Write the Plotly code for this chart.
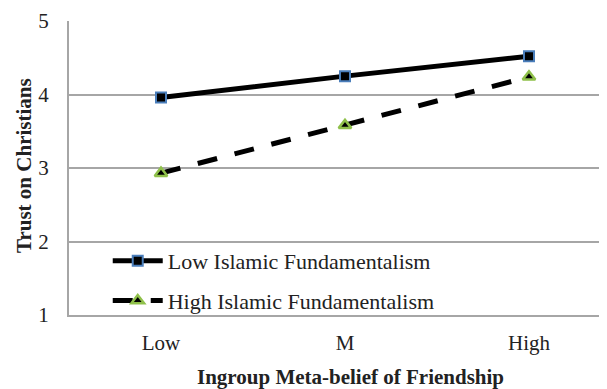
import plotly.graph_objects as go

categories = ["Low", "M", "High"]
low_fund = [3.96, 4.25, 4.52]
high_fund = [2.93, 3.58, 4.24]
series_names = ["Low Islamic Fundamentalism", "High Islamic Fundamentalism"]
y_ticks = [1, 2, 3, 4, 5]
x_title = "Ingroup Meta-belief of Friendship"
y_title = "Trust on Christians"

FONT = "Liberation Serif, Times New Roman, serif"
GRID = "#a6a6a6"

fig = go.Figure()
fig.add_trace(go.Scatter(
    x=categories, y=low_fund, name=series_names[0], mode="lines+markers",
    line=dict(color="black", width=5),
    marker=dict(symbol="square", size=10, color="black",
                line=dict(color="#4a7ebb", width=2)),
    legendgroup="a",
))
fig.add_trace(go.Scatter(
    x=categories, y=high_fund, name=series_names[1], mode="lines+markers",
    line=dict(color="black", width=5, dash="20px,18px"),
    marker=dict(symbol="triangle-up", size=11, color="black",
                line=dict(color="#8fc04a", width=2.5)),
    legendgroup="b",
))

# page body has an 8px margin, so the figure is sized/placed to compensate
fig.update_layout(
    width=599, height=381,
    margin=dict(l=61, r=0, t=13, b=74, autoexpand=False),
    paper_bgcolor="white", plot_bgcolor="white",
    font=dict(family=FONT, size=22, color="#222"),
    showlegend=True,
    legend=dict(x=0.072, y=-0.024, xanchor="left", yanchor="bottom",
                bgcolor="rgba(0,0,0,0)", itemwidth=50,
                tracegroupgap=8, font=dict(size=22, family=FONT, color="#222")),
    xaxis=dict(type="category", range=[-0.5, 2.424], showgrid=False,
               showline=True, linecolor=GRID, linewidth=2, ticks="",
               tickfont=dict(size=21), ticklabelstandoff=8, automargin=False),
    yaxis=dict(range=[1, 5], tickvals=y_ticks, showgrid=True, gridcolor=GRID,
               gridwidth=2, showline=True, linecolor=GRID, linewidth=2,
               ticks="", tickfont=dict(size=21), ticklabelstandoff=14,
               zeroline=False, automargin=False),
    annotations=[
        dict(text="<b>" + x_title + "</b>", xref="paper", yref="paper",
             x=(350 - 69) / 538, y=-(377 - 315) / 294, xanchor="center",
             yanchor="middle", showarrow=False, font=dict(size=21, family=FONT, color="#222")),
        dict(text="<b>" + y_title + "</b>", xref="paper", yref="paper",
             x=-(69 - 24) / 538, y=(315 - 166) / 294, xanchor="center",
             yanchor="middle", textangle=-90, showarrow=False,
             font=dict(size=21, family=FONT, color="#222")),
    ],
)

fig.write_html("out.html")
